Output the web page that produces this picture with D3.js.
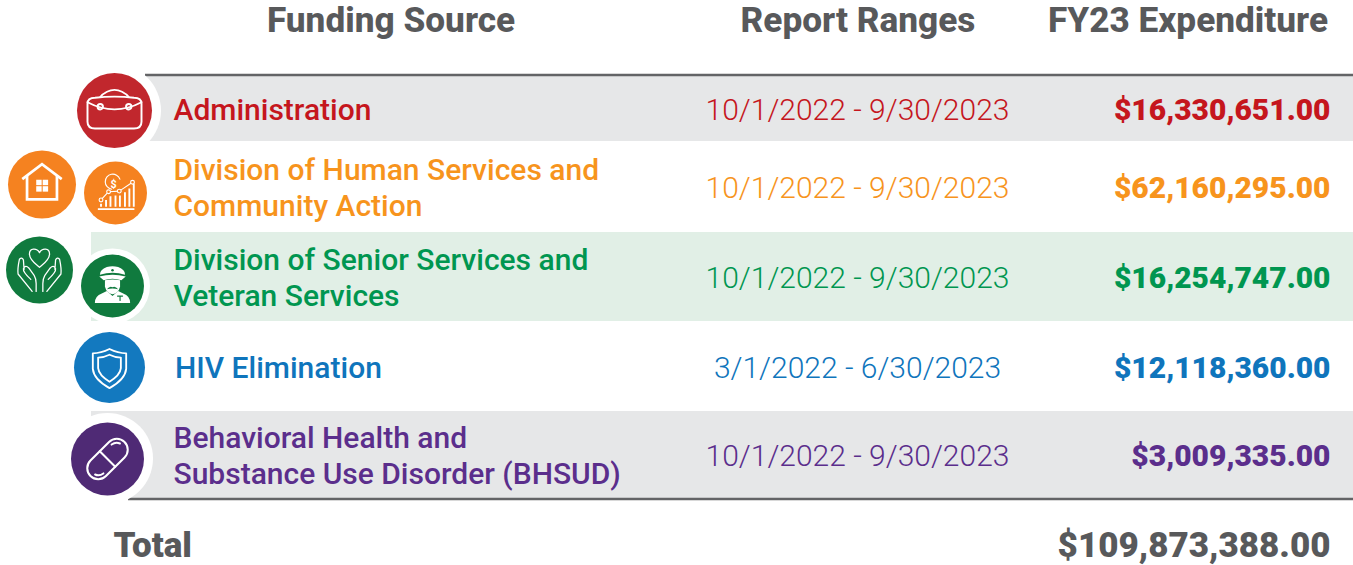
<!DOCTYPE html>
<html>
<head>
<meta charset="utf-8">
<script src="https://cdn.jsdelivr.net/npm/d3@7"></script>
<style>
    html, body { margin: 0; padding: 0; background: #fff; overflow: hidden; }
    text { font-family: Roboto, sans-serif; }
</style>
</head>
<body>
<svg id="chart"></svg>
<script>
const headers = ["Funding Source", "Report Ranges", "FY23 Expenditure"];
const sources = ["Administration", "Human", "Senior", "HIV", "BHSUD"];
const sourceLabels = [
    ["Administration"],
    ["Division of Human Services and", "Community Action"],
    ["Division of Senior Services and", "Veteran Services"],
    ["HIV Elimination"],
    ["Behavioral Health and", "Substance Use Disorder (BHSUD)"]
];
const reportRanges = [
    "10/1/2022 - 9/30/2023",
    "10/1/2022 - 9/30/2023",
    "10/1/2022 - 9/30/2023",
    "3/1/2022 - 6/30/2023",
    "10/1/2022 - 9/30/2023"
];
const expenditures = [16330651, 62160295, 16254747, 12118360, 3009335];
const totalLabel = "Total";
const totalValue = 109873388;

const width = 1353, height = 565;
const GRAY = "#58595b";
const textColors = ["#c5161d", "#f7941d", "#009650", "#0f75bc", "#5b2e8c"];
const circleColors = ["#c1272d", "#f58220", "#107a3e", "#1379bf", "#4f2a75"];
const bandColors = ["#e6e7e8", "#ffffff", "#e1efe6", "#ffffff", "#e6e7e8"];
const bandLeft = [145, 145, 91, 91, 91];

// row edges are not even in the original, so band scale won't do
const y = d3.scaleOrdinal().domain(sources).range([76, 141, 232, 321, 411]);
const yEnd = d3.scaleOrdinal().domain(sources).range([141, 232, 321, 411, 498]);

const money = v => "$" + d3.format(",.2f")(v);

const svg = d3.select("#chart").attr("width", width).attr("height", height)
    .style("display", "block");

// bands
svg.selectAll("rect.band")
    .data(sources)
    .enter()
    .append("rect")
    .attr("class", "band")
    .attr("x", (d, i) => bandLeft[i])
    .attr("y", d => y(d))
    .attr("width", (d, i) => width - bandLeft[i])
    .attr("height", d => yEnd(d) - y(d))
    .attr("fill", (d, i) => bandColors[i]);

svg.append("line").attr("x1", 145).attr("x2", width).attr("y1", 75).attr("y2", 75)
    .attr("stroke", "#636466").attr("stroke-width", 2.5);
svg.append("line").attr("x1", 128).attr("x2", width).attr("y1", 499).attr("y2", 499)
    .attr("stroke", "#636466").attr("stroke-width", 2.5);

// headers
const headerX = [391, 858, 1188];
svg.selectAll("text.header")
    .data(headers)
    .enter()
    .append("text")
    .attr("class", "header")
    .attr("x", (d, i) => headerX[i])
    .attr("y", 32)
    .attr("text-anchor", "middle")
    .attr("font-size", 35.2)
    .attr("font-weight", 800)
    .attr("fill", GRAY)
    .text(d => d);

// rows
const rows = svg.selectAll("g.row")
    .data(sources)
    .enter()
    .append("g")
    .attr("class", "row");

rows.each(function (d, i) {
    const g = d3.select(this);
    const mid = (y(d) + yEnd(d)) / 2;
    const lines = sourceLabels[i];
    const labelX = i === 3 ? 175 : 173.5;
    const midAdj = [1, 1, 1, 2, 1][i];
    lines.forEach((line, k) => {
        g.append("text")
            .attr("x", labelX)
            .attr("y", mid + midAdj + 10 + (k - (lines.length - 1) / 2) * 36)
            .attr("font-size", 30)
            .attr("font-weight", 500)
            .attr("fill", textColors[i])
            .text(line);
    });
    g.append("text")
        .attr("x", 857.5)
        .attr("y", mid + midAdj + 10)
        .attr("text-anchor", "middle")
        .attr("font-size", 30)
        .attr("font-weight", 300)
        .attr("fill", textColors[i])
        .text(reportRanges[i]);
    g.append("text")
        .attr("x", 1330.5)
        .attr("y", mid + midAdj + 10)
        .attr("text-anchor", "end")
        .attr("font-size", 30)
        .attr("font-weight", 900)
        .attr("fill", textColors[i])
        .text(money(expenditures[i]));
});

// total
svg.append("text").attr("x", 113.5).attr("y", 557)
    .attr("font-size", 35).attr("font-weight", 900).attr("fill", GRAY)
    .text(totalLabel);
svg.append("text").attr("x", 1330.5).attr("y", 557).attr("text-anchor", "end")
    .attr("font-size", 35).attr("font-weight", 900).attr("fill", GRAY)
    .text(money(totalValue));

// icons, drawn in a 100x100 box centred on the circle
function badge(cx, cy, r, color, ring) {
    if (ring) {
        svg.append("circle").attr("cx", ring[1]).attr("cy", ring[2]).attr("r", ring[0]).attr("fill", "#fff");
    }
    svg.append("circle").attr("cx", cx).attr("cy", cy).attr("r", r).attr("fill", color);
    return svg.append("g")
        .attr("transform", `translate(${cx},${cy}) scale(${r / 50})`)
        .attr("fill", "none")
        .attr("stroke", "#fff")
        .attr("stroke-width", 2.6)
        .attr("stroke-linejoin", "round")
        .attr("stroke-linecap", "round");
}

function briefcase(g) {
    g.append("path").attr("d", "M-36,-9 Q-36,-17 -26,-17 Q0,-20 26,-17 Q36,-17 36,-9 L36,15 Q36,24 26,24 L-26,24 Q-36,24 -36,15 Z");
    g.append("path").attr("d", "M-36,-11 Q0,8 36,-11");
    g.append("path").attr("d", "M-19,-18 Q-16,-22 -10,-25 Q0,-30 10,-25 Q16,-22 19,-18");
    g.append("circle").attr("cx", -19).attr("cy", -5).attr("r", 3.6);
    g.append("circle").attr("cx", 19).attr("cy", -5).attr("r", 3.6);
}

function house(g) {
    g.attr("stroke-width", 4).attr("stroke-linecap", "butt").attr("stroke-linejoin", "miter");
    g.append("path").attr("d", "M-29,-8 L0,-30 L29,-8");
    g.append("path").attr("d", "M-22,-13 L-22,22 L22,22 L22,-13");
    const win = g.append("g").attr("stroke", "none").attr("fill", "#fff");
    [[-8.5, -7], [1, -7], [-8.5, 2.5], [1, 2.5]].forEach(p => {
        win.append("rect").attr("x", p[0]).attr("y", p[1]).attr("width", 8).attr("height", 8);
    });
}

function growth(g) {
    g.append("path").attr("d", "M-28,25.5 L30,25.5").attr("stroke-width", 2.6).attr("stroke-linecap", "butt");
    g.append("path").attr("d", "M-23,22 V17 M-15,22 V11 M-8,22 V5 M0,22 V4 M7,22 V4 M15,22 V-1 M22,22 V-7 M29,22 V-15")
        .attr("stroke-width", 3).attr("stroke-linecap", "butt");
    g.append("path").attr("d", "M-23,11 L-11,-2 L6,-3 L27,-17").attr("stroke-width", 1.8);
    [[-23, 11], [-11, -2], [6, -3], [27, -17]].forEach(p => {
        g.append("circle").attr("cx", p[0]).attr("cy", p[1]).attr("r", 3).attr("stroke-width", 1.8).attr("fill", circleColors[1]);
    });
    g.append("path").attr("d", "M-6,-6 A12,12 0 1 1 7,-22").attr("stroke-width", 1.8);
    g.append("text").attr("x", -3).attr("y", -8).attr("text-anchor", "middle")
        .attr("font-size", 17).attr("font-weight", 700).attr("fill", "#fff").attr("stroke", "none")
        .text("$");
}

function hands(g) {
    g.attr("stroke-width", 1.9);
    g.append("path").attr("d", "M0,-4 C-6,-9 -15,-15 -15,-24 C-15,-33 -4,-33 0,-26 C4,-33 15,-33 15,-24 C15,-15 6,-9 0,-4 Z");
    const hand = "M-11,32 L-32,6 Q-33,-2 -30,-16 Q-26,-20 -24,-15 L-23,-1 M-16,-3 L-8,8 Q-5,13 -5,20 L-5,32 M-16,-3 Q-21,-8 -24,-2 Q-25,3 -13,14";
    g.append("path").attr("d", hand);
    g.append("path").attr("d", hand).attr("transform", "scale(-1,1)");
}

function officer(g) {
    const c = circleColors[2];
    g.attr("stroke", "none").attr("fill", "#fff");
    // shoulders
    g.append("path").attr("d", "M-28,27 Q-28,16 -17,12 L-9,8 L0,16 L9,8 L17,12 Q28,16 28,27 Z");
    // face
    g.append("path").attr("d", "M-12,-9 Q0,-12 12,-9 L12,1 Q9,12 0,13 Q-9,12 -12,1 Z");
    // cap
    g.append("path").attr("d", "M-20,-18 Q-20,-26 -9,-30 Q0,-33 9,-30 Q20,-26 20,-18 Q0,-24 -20,-18 Z");
    g.append("path").attr("d", "M-21,-15 Q0,-21 21,-15 L14,-9 Q0,-14 -14,-9 Z");
    g.append("path").attr("d", "M-9,5 Q-4,-1 0,2 Q4,-1 9,5 Q0,3 -9,5 Z").attr("fill", c);
    g.append("circle").attr("cx", 0).attr("cy", -25).attr("r", 2).attr("fill", c);
    g.append("path").attr("d", "M8,16 H16 M12,16 V23").attr("fill", "none").attr("stroke", c).attr("stroke-width", 1.8);
}

function shield(g) {
    g.attr("stroke-width", 2.6);
    g.append("path").attr("d", "M0,-26 Q12,-20 23.5,-20 L23.5,2 Q22,17 0,29 Q-22,17 -23.5,2 L-23.5,-20 Q-12,-20 0,-26 Z");
    g.append("path").attr("d", "M0,-18 Q8,-14 16,-14 L16,1 Q15,11 0,20 Q-15,11 -16,1 L-16,-14 Q-8,-14 0,-18 Z");
}

function capsule(g) {
    g.attr("stroke-width", 2.8);
    const pill = g.append("g").attr("transform", "rotate(-45)");
    pill.append("rect").attr("x", -33).attr("y", -15).attr("width", 66).attr("height", 30).attr("rx", 15);
    pill.append("path").attr("d", "M0,-15 V15");
    pill.append("path").attr("d", "M18,-10 Q25,-9 27,-3");
    pill.append("path").attr("d", "M-18,10 Q-25,9 -27,3");
}

briefcase(badge(114.5, 110.5, 37.5, circleColors[0], [46.5, 114.5, 110.5]));
house(badge(42, 184.5, 34, circleColors[1]));
growth(badge(115.5, 193, 31.5, circleColors[1]));
hands(badge(39.5, 270, 33.5, circleColors[2]));
officer(badge(112.5, 286, 31.5, circleColors[2], [37.5, 112.5, 286]));
shield(badge(109.5, 367.5, 35.5, circleColors[3]));
capsule(badge(107.5, 459, 36.5, circleColors[4], [45.5, 107.5, 458.5]));
</script>
</body>
</html>
